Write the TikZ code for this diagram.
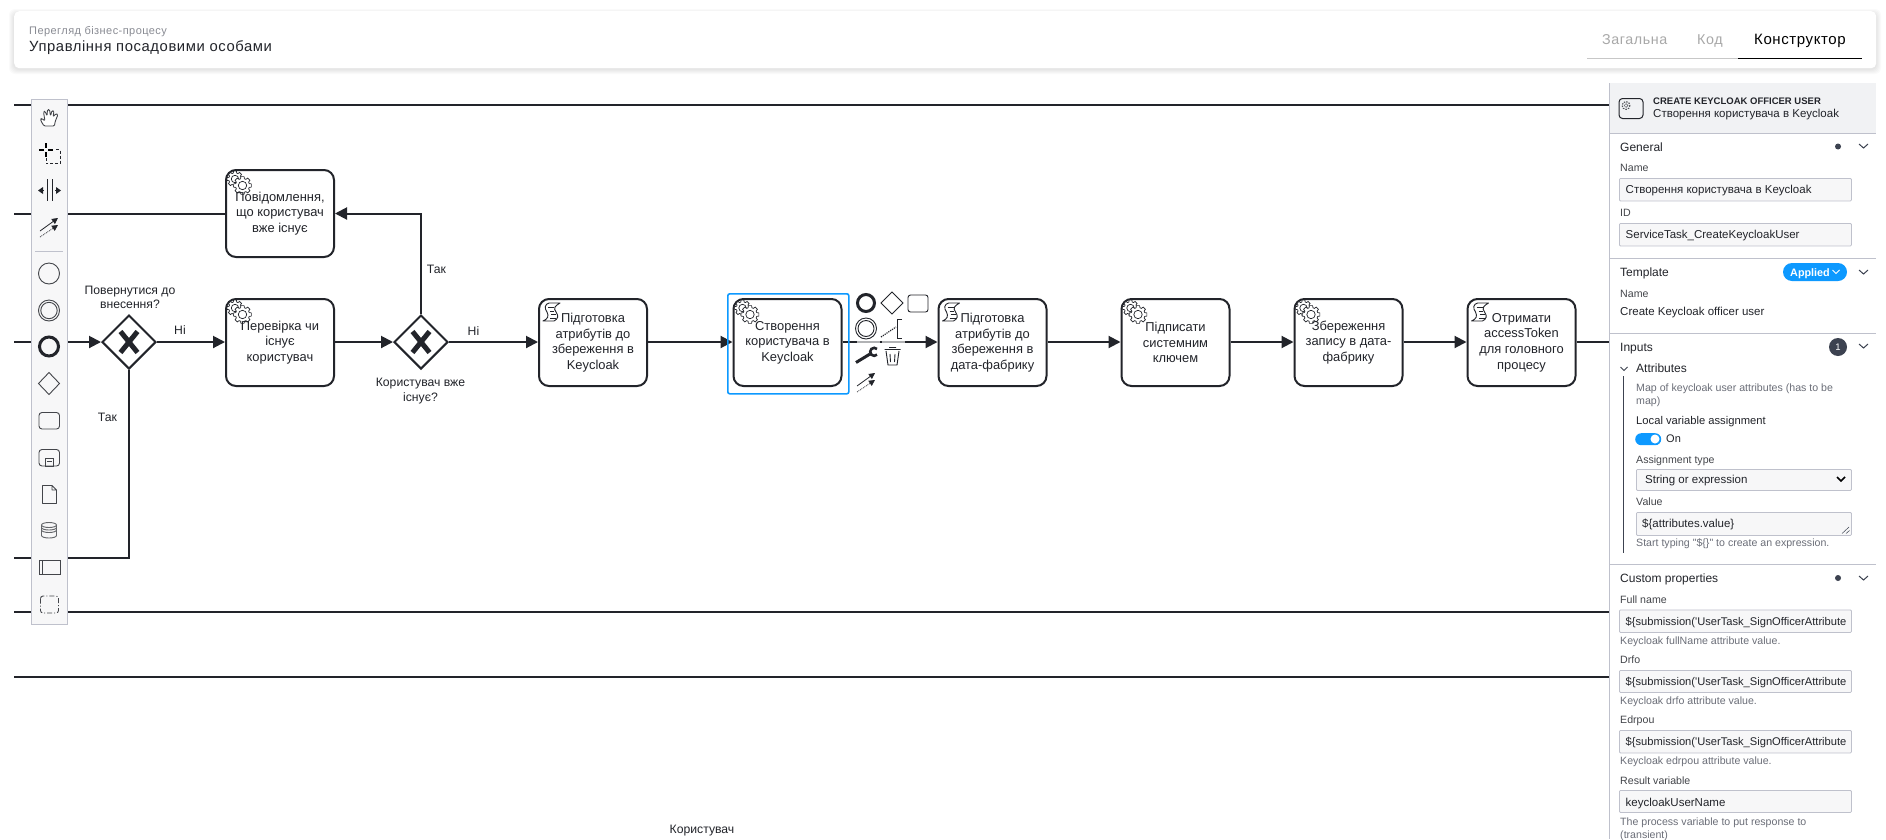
\documentclass[tikz,border=0pt]{standalone}
\usepackage{fontspec}
\setmainfont{Liberation Sans}
\newfontfamily\uifont{Liberation Sans}
\newfontfamily\titlefont[LetterSpace=4]{Liberation Sans}
\usetikzlibrary{arrows.meta,shapes.geometric}

\definecolor{inkcol}{HTML}{22242A}
\definecolor{hintcol}{HTML}{6B6E78}
\definecolor{rulecol}{HTML}{BFC1CC}
\definecolor{boxcol}{HTML}{F7F7F8}
\definecolor{headcol}{HTML}{F1F2F4}
\definecolor{bluecol}{HTML}{0D99FF}
\definecolor{dotcol}{HTML}{3C4250}
\definecolor{tabcol}{HTML}{A8A8A8}

\tikzset{
  lane/.style={line width=2pt,draw=inkcol},
  flow/.style={line width=2pt,draw=inkcol,-{Triangle[length=12pt,width=12pt]}},
  tasknode/.style={draw=inkcol,line width=2pt,fill=white,rounded corners=10pt,
    minimum width=108pt,minimum height=87pt,inner sep=0pt},
  tasktext/.style={inner sep=0pt,text=inkcol,align=center,
    font=\uifont\fontsize{12.9}{15.6}\selectfont},
  gatenode/.style={diamond,aspect=1,draw=inkcol,line width=2pt,fill=white,
    minimum width=54pt,minimum height=54pt,inner sep=0pt},
  flowlabel/.style={inner sep=0pt,text=inkcol,align=center,
    font=\uifont\fontsize{12.2}{14.2}\selectfont},
  paneltext/.style={anchor=base west,inner sep=0pt,text=inkcol,
    font=\uifont\fontsize{12}{14}\selectfont},
  fieldlabel/.style={anchor=base west,inner sep=0pt,text=inkcol!85,
    font=\uifont\fontsize{10.6}{13}\selectfont},
  hintlabel/.style={anchor=base west,inner sep=0pt,text=hintcol,
    font=\uifont\fontsize{10.6}{13}\selectfont},
  fieldbox/.style={draw=rulecol,fill=boxcol,line width=.8pt,rounded corners=1pt,
    anchor=north west,minimum width=#1,inner sep=0pt},
  fieldbox/.default=232pt,
  toolicon/.style={draw=inkcol!85,line width=.9pt},
  chevron/.style={draw=dotcol,line width=1pt},
  gearpic/.pic={
    \foreach \cx/\cy/\R/\r in {10/10/8/6.2,17.5/16.5/9/7}{
      \draw[fill=white,line width=.7pt,draw=inkcol]
        (\cx,\cy) ++(-10:\R)
        \foreach \a in {0,45,...,315}{
          -- ({\cx+\R*cos(\a-10)},{\cy+\R*sin(\a-10)})
          -- ({\cx+\R*cos(\a+10)},{\cy+\R*sin(\a+10)})
          -- ({\cx+\r*cos(\a+16)},{\cy+\r*sin(\a+16)})
          -- ({\cx+\r*cos(\a+29)},{\cy+\r*sin(\a+29)})
        } -- cycle;
      \draw[line width=.7pt,draw=inkcol] (\cx,\cy) circle (\r*.6);
    }
  },
  scrollpic/.pic={
    \draw[fill=white,line width=.9pt,draw=inkcol,line join=round]
      (11,5) -- (22,5) .. controls (17,8) and (15,10) .. (18,14)
      .. controls (21,18) and (20,21) .. (16,23) -- (5,23)
      .. controls (10,21) and (11,18) .. (9,14)
      .. controls (6,10) and (7,6) .. (11,5) -- cycle;
    \draw[line width=.9pt,draw=inkcol] (10,9) -- (16,9) (12,13) -- (16,13)
      (13,16.5) -- (18,16.5) (12,20) -- (18,20);
  },
  linkpic/.pic={
    \draw[line width=.8pt,draw=inkcol,-{Triangle[length=6pt,width=6pt]}] (-9,5) -- (9,-8);
    \draw[line width=.8pt,draw=inkcol,densely dotted,-{Triangle[length=6pt,width=6pt]}] (-9,11) -- (9,-1);
  },
}

\begin{document}
\begin{tikzpicture}[x=1pt,y=-1pt]
\useasboundingbox (0,0) rectangle (1886,839);
\fill[white] (0,0) rectangle (1886,839);

% header card
\foreach \s in {5,4,3,2,1}{
  \fill[black,opacity=.02,rounded corners=6pt] (14-\s,11-\s+3) rectangle (1876+\s,68+\s+1);
}
\node[draw=none,fill=white,rounded corners=5pt,anchor=north west,minimum width=1862pt,
  minimum height=57pt,inner sep=0pt] (card) at (14,11) {};
\node[anchor=base west,inner sep=0pt,text=hintcol!80,font=\titlefont\fontsize{11}{12}\selectfont] (crumb) at (29,34) {Перегляд бізнес-процесу};
\node[anchor=base west,inner sep=0pt,text=inkcol,font=\titlefont\fontsize{14.8}{17}\selectfont] (title) at (29,51) {Управління посадовими особами};
\node[anchor=base west,inner sep=0pt,text=tabcol,font=\titlefont\fontsize{14.3}{17}\selectfont] (tabgen) at (1602,44) {Загальна};
\node[anchor=base west,inner sep=0pt,text=tabcol,font=\titlefont\fontsize{14.3}{17}\selectfont] (tabcode) at (1697,44) {Код};
\node[anchor=base west,inner sep=0pt,text=black,font=\titlefont\fontsize{15}{17}\selectfont] (tabedit) at (1754,44) {Конструктор};
\draw[draw=black!22,line width=.8pt] (1587,58.5) -- (1738,58.5);
\draw[black,line width=1.2pt] (1738,58.5) -- (1862,58.5);

% lanes
\coordinate (topL) at (14,105);
\coordinate (topR) at (1609,105);
\coordinate (midL) at (14,612);
\coordinate (midR) at (1609,612);
\coordinate (lowL) at (14,677);
\coordinate (lowR) at (1609,677);
\draw[lane] (topL) -- (topR);
\draw[lane] (midL) -- (midR);
\draw[lane] (lowL) -- (lowR);

% process
\node[gatenode] (gwBack) at (129,342) {};
\node[gatenode] (gwExists) at (421,342) {};
\node[tasknode] (taskMsg) at (280,213.5) {};
\node[tasknode] (taskCheck) at (280,342.5) {};
\node[tasknode] (taskPrepA) at (593,342.5) {};
\node[tasknode] (taskCreate) at (787.5,342.5) {};
\node[tasknode] (taskPrepB) at (992.5,342.5) {};
\node[tasknode] (taskSign) at (1175.5,342.5) {};
\node[tasknode] (taskSave) at (1348.5,342.5) {};
\node[tasknode] (taskToken) at (1521.5,342.5) {};

\coordinate (inL) at (14,342);
\coordinate (msgL) at (14,213.5);
\coordinate (backL) at (14,558);
\coordinate (outR) at (1609,342);
\draw[flow] (inL) -- (gwBack.west);
\draw[flow] (gwBack.east) -- (taskCheck.west |- gwBack.east);
\draw[flow] (taskCheck.east |- gwExists.west) -- (gwExists.west);
\draw[flow] (gwExists.east) -- (taskPrepA.west |- gwExists.east);
\draw[flow] (taskPrepA.east |- gwExists.east) -- (taskCreate.west |- gwExists.east);
\draw[flow] (taskCreate.east |- gwExists.east) -- (taskPrepB.west |- gwExists.east);
\draw[flow] (taskPrepB.east |- gwExists.east) -- (taskSign.west |- gwExists.east);
\draw[flow] (taskSign.east |- gwExists.east) -- (taskSave.west |- gwExists.east);
\draw[flow] (taskSave.east |- gwExists.east) -- (taskToken.west |- gwExists.east);
\draw[lane] (taskToken.east |- gwExists.east) -- (outR);
\draw[flow] (gwExists.north) |- (taskMsg.east);
\draw[lane] (taskMsg.west) -- (msgL);
\draw[lane,line join=miter] (gwBack.south) |- (backL);

% gateway marks
\foreach \gw in {gwBack,gwExists}{
  \draw[line width=5pt,draw=inkcol] (\gw.center) ++(-8.5,-10.5) -- ++(17,21);
  \draw[line width=5pt,draw=inkcol] (\gw.center) ++(8.5,-10.5) -- ++(-17,21);
}

% task markers
\pic at (taskMsg.north west) {gearpic};
\pic at (taskCheck.north west) {gearpic};
\pic at (taskCreate.north west) {gearpic};
\pic at (taskSign.north west) {gearpic};
\pic at (taskSave.north west) {gearpic};
\pic at (taskPrepA.north west) {scrollpic};
\pic at (taskPrepB.north west) {scrollpic};
\pic at (taskToken.north west) {scrollpic};

% task labels
\node[tasktext] (txtMsg) at (taskMsg) {Повідомлення,\\що користувач\\вже існує};
\node[tasktext] (txtCheck) at (taskCheck) {Перевірка чи\\існує\\користувач};
\node[tasktext] (txtPrepA) at (taskPrepA) {Підготовка\\атрибутів до\\збереження в\\Keycloak};
\node[tasktext] (txtCreate) at (taskCreate) {Створення\\користувача в\\Keycloak};
\node[tasktext] (txtPrepB) at (taskPrepB) {Підготовка\\атрибутів до\\збереження в\\дата-фабрику};
\node[tasktext] (txtSign) at (taskSign) {Підписати\\системним\\ключем};
\node[tasktext] (txtSave) at (taskSave) {Збереження\\запису в дата-\\фабрику};
\node[tasktext] (txtToken) at (taskToken) {Отримати\\accessToken\\для головного\\процесу};

% flow labels
\node[flowlabel] (lblBack) at (130,297) {Повернутися до\\внесення?};
\node[flowlabel] (lblExists) at (420.5,391) {Користувач вже\\існує?};
\node[flowlabel] (lblNoA) at (180,330) {Ні};
\node[flowlabel] (lblNoB) at (473.5,331) {Ні};
\node[flowlabel] (lblYesA) at (436.5,269) {Так};
\node[flowlabel] (lblYesB) at (107.5,417.5) {Так};
\node[flowlabel] (lblUser) at (702,831) {Користувач};

% selection and context pad
\node[draw=bluecol,line width=1.6pt,rounded corners=2pt,anchor=north west,
  minimum width=121pt,minimum height=100pt,inner sep=0pt] (selBox) at (727,293) {};
\fill[white,opacity=.65] (857,341) rectangle (880,343);
\fill[white,opacity=.65] (882,341) rectangle (905,343);
\draw[draw=inkcol,line width=3pt] (866,303) circle (8.5);
\draw[draw=inkcol,line width=.9pt] (866,328.5) circle (10.5) circle (8);
\draw[draw=inkcol,line width=.9pt] (892,292) -- (903,303) -- (892,314) -- (881,303) -- cycle;
\draw[draw=inkcol,line width=.9pt,rounded corners=2.5pt] (908,295) rectangle (928,312);
\draw[draw=inkcol,line width=1.2pt,densely dotted] (881,337) -- (896,327);
\draw[draw=inkcol,line width=.8pt] (902,319) -- (897.5,319) -- (897.5,338) -- (902,338);
\draw[draw=inkcol,line width=3pt] (856,362.5) -- (870,354);
\draw[draw=inkcol,line width=2.6pt] (877,349) arc (-45:-315:4);
\draw[draw=inkcol,line width=.9pt] (886,351) -- (888,365) -- (897,365) -- (899,351) (884.5,349.5) -- (900.5,349.5)
  (889,347.5) -- (896,347.5) (890,354) -- (890.5,362) (895,354) -- (894.5,362);
\pic at (866,381) {linkpic};

% palette
\node[draw=rulecol,fill=boxcol,line width=.9pt,anchor=north west,minimum width=36.5pt,
  minimum height=525pt,inner sep=0pt] (palette) at (30.8,99.3) {};
% hand
\draw[toolicon,line join=round,fill=white,rounded corners=1.2pt]
  (44,126) -- (41,121) -- (40.5,119) -- (42,118.5) -- (45,121) -- (43.5,112) -- (45,111) -- (47,116)
  -- (47.5,109.5) -- (49.5,109.5) -- (50.5,116) -- (52,110.5) -- (54,111) -- (53,117) -- (56,113.5) -- (58,114.5)
  -- (55,122) -- (54.5,126) -- cycle;
% lasso
\draw[draw=inkcol,line width=1pt,densely dashed] (46,149.5) -- (60,149.5) -- (60,163.5) -- (46,163.5) -- cycle;
\fill[boxcol] (38,143) rectangle (54,158);
\draw[black,line width=1.8pt] (39,150) -- (44,150) (48,150) -- (53,150) (46,143) -- (46,148) (46,152) -- (46,157);
% space
\draw[draw=inkcol,line width=.9pt] (47.5,179) -- (47.5,201) (52,179) -- (52,201);
\draw[draw=inkcol,line width=.9pt] (39,190.5) -- (44,190.5) (55,190.5) -- (60,190.5);
\fill[inkcol] (38,190.5) -- (43,187) -- (43,194) -- cycle (61,190.5) -- (56,187) -- (56,194) -- cycle;
% connect
\pic at (49,226) {linkpic};
\draw[draw=rulecol,line width=.8pt] (35,251.5) -- (63,251.5);
% events, gateway, task
\draw[toolicon] (49,273.5) circle (10.5);
\draw[toolicon] (49,310.5) circle (10.5) circle (8.2);
\draw[draw=inkcol,line width=3pt] (49,346.5) circle (9.5);
\draw[toolicon] (49,372.5) -- (59.5,383.5) -- (49,394.5) -- (38.5,383.5) -- cycle;
\draw[toolicon,rounded corners=3pt] (39,412.5) rectangle (59.5,429);
\draw[toolicon,rounded corners=3pt] (39,449.5) rectangle (59.5,466);
\draw[toolicon] (45,458.5) rectangle (53.5,466) (47,461.5) -- (51.5,461.5);
% data object, store
\draw[toolicon,line join=round] (42.5,485.5) -- (52,485.5) -- (56.5,490) -- (56.5,503.5) -- (42.5,503.5) -- cycle (52,485.5) -- (52,490) -- (56.5,490);
\draw[toolicon,draw=inkcol!70] (41.5,525) -- (41.5,535.5) arc (180:0:7.5 and 2.5) -- (56.5,525)
  (41.5,525) arc (180:-180:7.5 and 2.5) (41.5,527.5) arc (180:0:7.5 and 2.5) (41.5,530) arc (180:0:7.5 and 2.5);
% pool, group
\draw[toolicon] (39,560.5) rectangle (60,574.5) (42.5,560.5) -- (42.5,574.5);
\draw[toolicon,dash pattern=on 5pt off 2pt on 1pt off 2pt,rounded corners=2.5pt] (40.5,596) rectangle (58.5,613);

% properties panel
\fill[white] (1609.5,83) rectangle (1876,839);
\fill[headcol] (1609.5,83) rectangle (1876,133);
\draw[draw=rulecol,line width=.8pt] (1609.5,83) -- (1609.5,839);
\foreach \y in {133.5,258.5,333.5,564.5}{
  \draw[draw=rulecol,line width=.8pt] (1609.5,\y) -- (1876,\y);
}
\node[draw=inkcol,line width=1pt,rounded corners=3.5pt,minimum width=24pt,minimum height=20pt,
  inner sep=0pt,anchor=north west] (headIcon) at (1618.5,98) {};
\draw[draw=inkcol!80,line width=1.1pt,dash pattern=on 1.4pt off 1.2pt] (1626,105.5) circle (3.9);
\draw[draw=inkcol!80,line width=.5pt] (1626,105.5) circle (1.9);
\node[paneltext,font=\uifont\bfseries\fontsize{9.5}{12}\selectfont] (headType) at (1653,104) {CREATE KEYCLOAK OFFICER USER};
\node[paneltext,font=\uifont\fontsize{11.5}{13}\selectfont] (headName) at (1653,117) {Створення користувача в Keycloak};

% general
\node[paneltext] (genTitle) at (1620,151) {General};
\node[fieldlabel] (genName) at (1620,171) {Name};
\node[fieldbox,minimum height=22.5pt] (boxName) at (1619,178) {};
\node[paneltext,font=\uifont\fontsize{11.5}{13}\selectfont] (valName) at (1625.5,193) {Створення користувача в Keycloak};
\node[fieldlabel] (genId) at (1620,216) {ID};
\node[fieldbox,minimum height=22.5pt] (boxId) at (1619,223) {};
\node[paneltext,font=\uifont\fontsize{11.5}{13}\selectfont] (valId) at (1625.5,238) {ServiceTask\_CreateKeycloakUser};

% template
\node[paneltext] (tplTitle) at (1620,276) {Template};
\node[fill=bluecol,rounded corners=9pt,minimum width=64pt,minimum height=18pt,inner sep=0pt] (tplPill) at (1815,272) {};
\node[paneltext,text=white,font=\uifont\bfseries\fontsize{10.8}{13}\selectfont] (tplApplied) at (1790,276) {Applied};
\draw[white,line width=1pt] (1832.5,270) -- (1836,273.5) -- (1839.5,270);
\node[fieldlabel] (tplName) at (1620,297) {Name};
\node[paneltext,font=\uifont\fontsize{11.5}{13}\selectfont] (tplValue) at (1620,315) {Create Keycloak officer user};

% inputs
\node[paneltext] (inTitle) at (1620,351) {Inputs};
\node[circle,fill=dotcol,minimum size=18pt,inner sep=0pt,text=white,font=\uifont\fontsize{9.5}{11}\selectfont] (inBadge) at (1838,347) {1};
\draw[chevron] (1620.5,367) -- (1624,370.5) -- (1627.5,367);
\node[paneltext] (inAttr) at (1636,372) {Attributes};
\draw[draw=dotcol,line width=.8pt] (1623.5,376) -- (1623.5,553);
\node[hintlabel] (inHintA) at (1636,391) {Map of keycloak user attributes (has to be};
\node[hintlabel] (inHintB) at (1636,404) {map)};
\node[paneltext,font=\uifont\fontsize{11.2}{13}\selectfont] (inLocal) at (1636,424) {Local variable assignment};
\node[fill=bluecol,rounded corners=6pt,minimum width=26pt,minimum height=12pt,inner sep=0pt,anchor=north west] (togBody) at (1635,433) {};
\node[circle,fill=white,minimum size=9pt,inner sep=0pt] (togKnob) at (1655,439) {};
\node[paneltext,font=\uifont\fontsize{11}{13}\selectfont] (togOn) at (1666,442) {On};
\node[fieldlabel] (inType) at (1636,463) {Assignment type};
\node[fieldbox=215pt,minimum height=21pt] (boxType) at (1636,469) {};
\node[paneltext,font=\uifont\fontsize{11.5}{13}\selectfont] (valType) at (1645,483) {String or expression};
\draw[black,line width=1.7pt] (1837,477) -- (1841,481) -- (1845,477);
\node[fieldlabel] (inValue) at (1636,505) {Value};
\node[fieldbox=215pt,minimum height=23pt] (boxValue) at (1636,512) {};
\node[paneltext,font=\uifont\fontsize{11.5}{13}\selectfont] (valValue) at (1642,527) {\$\{attributes.value\}};
\draw[draw=dotcol,line width=.5pt] (1842,533.5) -- (1849,527) (1846,533.5) -- (1849.5,530.5);
\node[hintlabel] (inHintC) at (1636,546) {Start typing "\$\{\}" to create an expression.};

% custom properties
\node[paneltext] (cusTitle) at (1620,582) {Custom properties};
\node[fieldlabel] (cusFull) at (1620,603) {Full name};
\node[hintlabel] (cusFullHint) at (1620,644) {Keycloak fullName attribute value.};
\node[fieldlabel] (cusDrfo) at (1620,663) {Drfo};
\node[hintlabel] (cusDrfoHint) at (1620,704) {Keycloak drfo attribute value.};
\node[fieldlabel] (cusEdr) at (1620,723) {Edrpou};
\node[hintlabel] (cusEdrHint) at (1620,764) {Keycloak edrpou attribute value.};
\node[fieldlabel] (cusRes) at (1620,784) {Result variable};
\node[fieldbox,minimum height=22.5pt] (boxFull) at (1619,609.5) {};
\node[fieldbox,minimum height=22pt] (boxDrfo) at (1619,670) {};
\node[fieldbox,minimum height=22.5pt] (boxEdr) at (1619,730) {};
\node[fieldbox,minimum height=22pt] (boxRes) at (1619,790) {};
\begin{scope}
\clip (1625,600) rectangle (1845,760);
\node[paneltext,font=\uifont\fontsize{11.15}{13}\selectfont] (valFull) at (1625.5,625) {\$\{submission('UserTask\_SignOfficerAttributes};
\node[paneltext,font=\uifont\fontsize{11.15}{13}\selectfont] (valDrfo) at (1625.5,685) {\$\{submission('UserTask\_SignOfficerAttributes};
\node[paneltext,font=\uifont\fontsize{11.15}{13}\selectfont] (valEdr) at (1625.5,745) {\$\{submission('UserTask\_SignOfficerAttributes};
\end{scope}
\node[paneltext,font=\uifont\fontsize{11.5}{13}\selectfont] (valRes) at (1625.5,806) {keycloakUserName};
\node[hintlabel] (cusHintA) at (1620,825) {The process variable to put response to};
\node[hintlabel] (cusHintB) at (1620,838) {(transient)};

% section controls
\foreach \y in {146,272,346,578}{
  \draw[chevron] (1859,\y-2) -- (1863.5,\y+2) -- (1868,\y-2);
}
\foreach \y in {146.5,578}{
  \fill[dotcol] (1838,\y) circle (3);
}
\end{tikzpicture}
\end{document}
